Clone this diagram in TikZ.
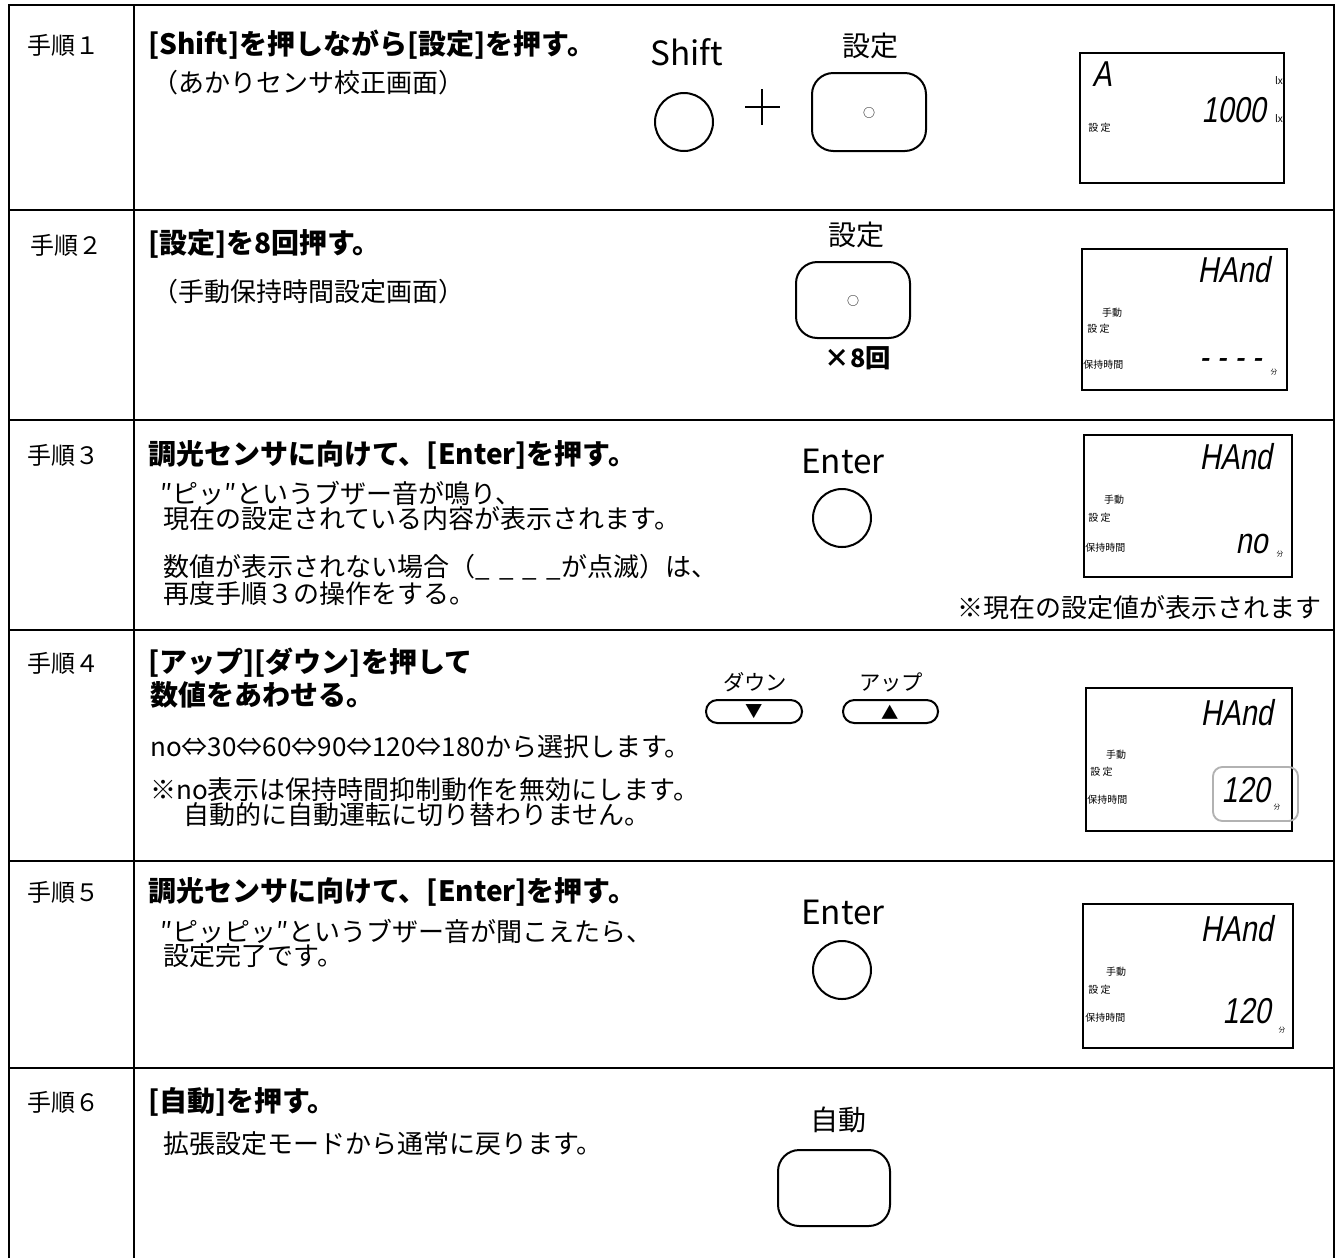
\documentclass[tikz,border=0pt]{standalone}
\usepackage{fontspec}
\setmainfont{Noto Sans CJK JP}
\newfontfamily\seg[FakeSlant=0.18,FakeStretch=0.8]{Liberation Sans}
\begin{document}
\begin{tikzpicture}[x=0.75pt,y=-0.75pt,
  grid/.style={line width=1.9pt},
  lbl/.style={anchor=west,inner sep=0,font=\fontsize{18}{22}\selectfont},
  head/.style={anchor=west,inner sep=0,font=\fontsize{21}{25}\selectfont\bfseries},
  body/.style={anchor=west,inner sep=0,align=left,font=\fontsize{19.5}{18}\selectfont},
  keylat/.style={inner sep=0,font=\fontsize{25}{30}\selectfont},
  keyjp/.style={inner sep=0,font=\fontsize{21}{25}\selectfont},
  keysm/.style={inner sep=0,font=\fontsize{16}{20}\selectfont},
  btn/.style={line width=1.5pt,rounded corners=16pt},
  pill/.style={line width=1.5pt,rounded corners=8.5pt},
  rnd/.style={draw,circle,line width=1.5pt,minimum size=43.5pt,inner sep=0},
  lcd/.style={line width=1.2pt},
  seg/.style={inner sep=0,font=\seg\fontsize{27}{30}\selectfont},
  tiny/.style={inner sep=0,font=\fontsize{7.5}{9}\selectfont},
  unit/.style={inner sep=0,font=\fontsize{5}{6}\selectfont},
  dot/.style={inner sep=0,font=\fontsize{9}{10}\selectfont}]
\useasboundingbox (0,0) rectangle (1339,1258);
\fill[white] (0,0) rectangle (1339,1258);
% table grid
\draw[grid] (9,1258) -- (9,5) -- (1334,5) -- (1334,1258);
\draw[grid] (134,5) -- (134,1258);
\foreach \yy in {210,420,630,861,1068} \draw[grid] (9,\yy) -- (1334,\yy);

% ---------- step 1 ----------
\node[lbl] (l1) at (27,45) {手順１};
\node[head] (h1) at (148,45) {[Shift]を押しながら[設定]を押す。};
\node[body] (b1) at (152,83) {（あかりセンサ校正画面）};
\node[keylat] (k1a) at (687,52) {Shift};
\node[rnd] (c1) at (684,122) {};
\draw[line width=2pt] (745,107) -- (780,107) (762,89) -- (762,125);
\node[keyjp] (k1b) at (870,46) {設定};
\draw[btn] (812,73) rectangle (926,151);
\node[dot] (d1) at (869,113) {○};
% lcd 1
\draw[lcd] (1080,53) rectangle (1284,183);
\node[seg,anchor=west] (s1a) at (1092,74) {A};
\node[seg,anchor=east] (s1b) at (1266,110) {1000};
\node[tiny] (t1a) at (1279,81) {lx};
\node[tiny] (t1b) at (1279,119) {lx};
\node[tiny,anchor=west] (t1c) at (1088,128) {設 定};

% ---------- step 2 ----------
\node[lbl] (l2) at (30,245) {手順２};
\node[head] (h2) at (148,244) {[設定]を8回押す。};
\node[body] (b2) at (152,292) {（手動保持時間設定画面）};
\node[keyjp] (k2) at (856,235) {設定};
\draw[btn] (796,262) rectangle (910,338);
\node[dot] (d2) at (853,301) {○};
\node[inner sep=0,font=\fontsize{19}{22}\selectfont\bfseries] (x8) at (858,358) {×8回};
% lcd 2
\draw[lcd] (1082,249) rectangle (1287,390);
\node[seg,anchor=east] (s2a) at (1270,270) {HAnd};
\node[tiny] (t2a) at (1112,313) {手動};
\node[tiny,anchor=west] (t2b) at (1087,329) {設 定};
\node[tiny,anchor=west] (t2c) at (1083,365) {保持時間};
\node[seg,anchor=east] (s2b) at (1262,364) {- - - -};
\node[unit] (t2d) at (1274,372) {分};

% ---------- step 3 ----------
\node[lbl] (l3) at (27,455) {手順３};
\node[head] (h3) at (148,455) {調光センサに向けて、[Enter]を押す。};
\node[body] (b3a) at (160,506) {″ピッ″というブザー音が鳴り、\\\hspace*{2.5pt}現在の設定されている内容が表示されます。};
\node[body] (b3c) at (163,580) {数値が表示されない場合（\_\hspace{7pt}\_\hspace{7pt}\_\hspace{7pt}\_が点滅）は、\\再度手順３の操作をする。};
\node[keylat] (k3) at (843,461) {Enter};
\node[rnd] (c3) at (842,518) {};
\draw[lcd] (1084,435) rectangle (1292,577);
\node[seg,anchor=east] (s3a) at (1272,457) {HAnd};
\node[tiny] (t3a) at (1114,500) {手動};
\node[tiny,anchor=west] (t3b) at (1088,518) {設 定};
\node[tiny,anchor=west] (t3c) at (1085,548) {保持時間};
\node[seg,anchor=east] (s3b) at (1268,544) {no};
\node[unit] (t3d) at (1280,554) {分};
\node[body] (n3) at (957,608) {※現在の設定値が表示されます};

% ---------- step 4 ----------
\node[lbl] (l4) at (27,663) {手順４};
\node[head] (h4a) at (148,663) {[アップ][ダウン]を押して};
\node[head] (h4b) at (150,695) {数値をあわせる。};
\node[body] (b4a) at (150,747) {no⇔30⇔60⇔90⇔120⇔180から選択します。};
\node[body] (b4b) at (150,802) {※no表示は保持時間抑制動作を無効にします。\\\hspace*{25pt}自動的に自動運転に切り替わりません。};
\node[keysm] (kdn) at (755,682) {ダウン};
\node[keysm] (kup) at (891,682) {アップ};
\draw[pill] (706,700) rectangle (802,723);
\draw[pill] (843,700) rectangle (938,723);
\node[inner sep=0,font=\fontsize{13}{14}\selectfont] (tdn) at (754,712) {▼};
\node[inner sep=0,font=\fontsize{13}{14}\selectfont] (tup) at (890,712) {▲};
\draw[lcd] (1086,688) rectangle (1292,831);
\node[seg,anchor=east] (s4a) at (1273,713) {HAnd};
\node[tiny] (t4a) at (1116,755) {手動};
\node[tiny,anchor=west] (t4b) at (1090,772) {設 定};
\node[tiny,anchor=west] (t4c) at (1087,800) {保持時間};
\node[seg,anchor=east] (s4b) at (1270,790) {120};
\node[unit] (t4d) at (1277,807) {分};
\draw[gray!60,line width=1.4pt,rounded corners=7pt] (1213,767) rectangle (1298,821);

% ---------- step 5 ----------
\node[lbl] (l5) at (27,892) {手順５};
\node[head] (h5) at (148,892) {調光センサに向けて、[Enter]を押す。};
\node[body] (b5a) at (160,943) {″ピッピッ″というブザー音が聞こえたら、\\\hspace*{2.5pt}設定完了です。};
\node[keylat] (k5) at (843,912) {Enter};
\node[rnd] (c5) at (842,970) {};
\draw[lcd] (1083,904) rectangle (1293,1048);
\node[seg,anchor=east] (s5a) at (1273,929) {HAnd};
\node[tiny] (t5a) at (1116,972) {手動};
\node[tiny,anchor=west] (t5b) at (1088,990) {設 定};
\node[tiny,anchor=west] (t5c) at (1085,1018) {保持時間};
\node[seg,anchor=east] (s5b) at (1271,1011) {120};
\node[unit] (t5d) at (1282,1030) {分};

% ---------- step 6 ----------
\node[lbl] (l6) at (27,1102) {手順６};
\node[head] (h6) at (148,1102) {[自動]を押す。};
\node[body] (b6) at (163,1144) {拡張設定モードから通常に戻ります。};
\node[keyjp] (k6) at (838,1120) {自動};
\draw[btn] (778,1150) rectangle (890,1226);
\end{tikzpicture}
\end{document}
